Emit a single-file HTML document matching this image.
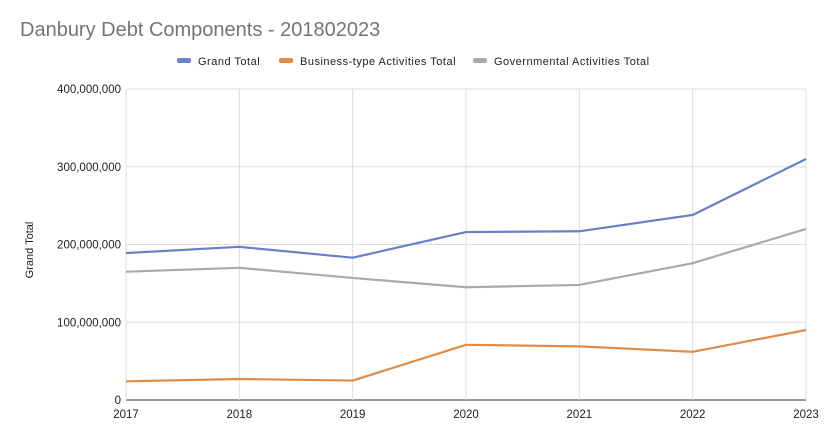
<!DOCTYPE html>
<html><head><meta charset="utf-8"><style>
body{margin:0;background:#fff;font-family:"Liberation Sans",sans-serif;}
svg text{font-family:"Liberation Sans",sans-serif;}
</style></head><body>
<svg id="chart" width="826" height="431">
<text x="20" y="36" font-size="20" fill="#757575">Danbury Debt Components - 201802023</text>
<g id="legend"></g>
<g id="grid"></g>
<g id="series"></g>
<text transform="translate(33,250) rotate(-90)" text-anchor="middle" font-size="11" fill="#222">Grand Total</text>
</svg>
<script>
const years=[2017,2018,2019,2020,2021,2022,2023];
const grandTotal=[189e6,197e6,183e6,216e6,217e6,238e6,310e6];
const businessTotal=[24e6,27e6,25e6,71e6,69e6,62e6,90e6];
const governmentalTotal=[165e6,170e6,157e6,145e6,148e6,176e6,220e6];
const yTicks=[0,100e6,200e6,300e6,400e6];
const yTickLabels=["0","100,000,000","200,000,000","300,000,000","400,000,000"];
const seriesNames=["Grand Total","Business-type Activities Total","Governmental Activities Total"];
const NS="http://www.w3.org/2000/svg";
const L=126,R=806,T=89,B=400;
const xs=i=>L+(R-L)*i/(years.length-1);
const ys=v=>B-(B-T)*v/400e6;
function mk(tag,attrs,parent){const e=document.createElementNS(NS,tag);for(const k in attrs)e.setAttribute(k,attrs[k]);parent.appendChild(e);return e;}
const grid=document.getElementById('grid');
yTicks.forEach((v,i)=>{
 const l=mk('line',{x1:L,x2:R,y1:ys(v),y2:ys(v),stroke:i==0?'#333':'#ddd','stroke-width':1},grid);
 
 
 const t=mk('text',{x:L-5,y:ys(v)+4,'text-anchor':'end','font-size':11.5,fill:'#222'},grid);
 t.textContent=yTickLabels[i];
 
 
});
years.forEach((y,i)=>{
 const l=mk('line',{x1:xs(i),x2:xs(i),y1:T,y2:B,stroke:'#ddd','stroke-width':1},grid);
 
 
 const t=mk('text',{x:xs(i),y:418,'text-anchor':'middle','font-size':11.5,fill:'#222'},grid);
 t.textContent=y;
 
 
});
const colors=['#6a7fc8','#e08b47','#aaaaaa'];
const data=[grandTotal,businessTotal,governmentalTotal];
const sg=document.getElementById('series');
[2,1,0].forEach(k=>{
 const p=mk('polyline',{points:data[k].map((v,i)=>xs(i)+','+ys(v)).join(' '),fill:'none',stroke:colors[k],'stroke-width':2.2,'stroke-linejoin':'round'},sg);
 
 
});
const lg=document.getElementById('legend');
const lx=[177,279,473];
seriesNames.forEach((n,k)=>{
 const r=mk('rect',{x:lx[k],y:58,width:14,height:5,rx:2,fill:colors[k]},lg);
 
 
 const t=mk('text',{x:lx[k]+21,y:65,'font-size':11,'letter-spacing':0.5,fill:'#222'},lg);
 t.textContent=n;
 
 
});
</script>
</body></html>
